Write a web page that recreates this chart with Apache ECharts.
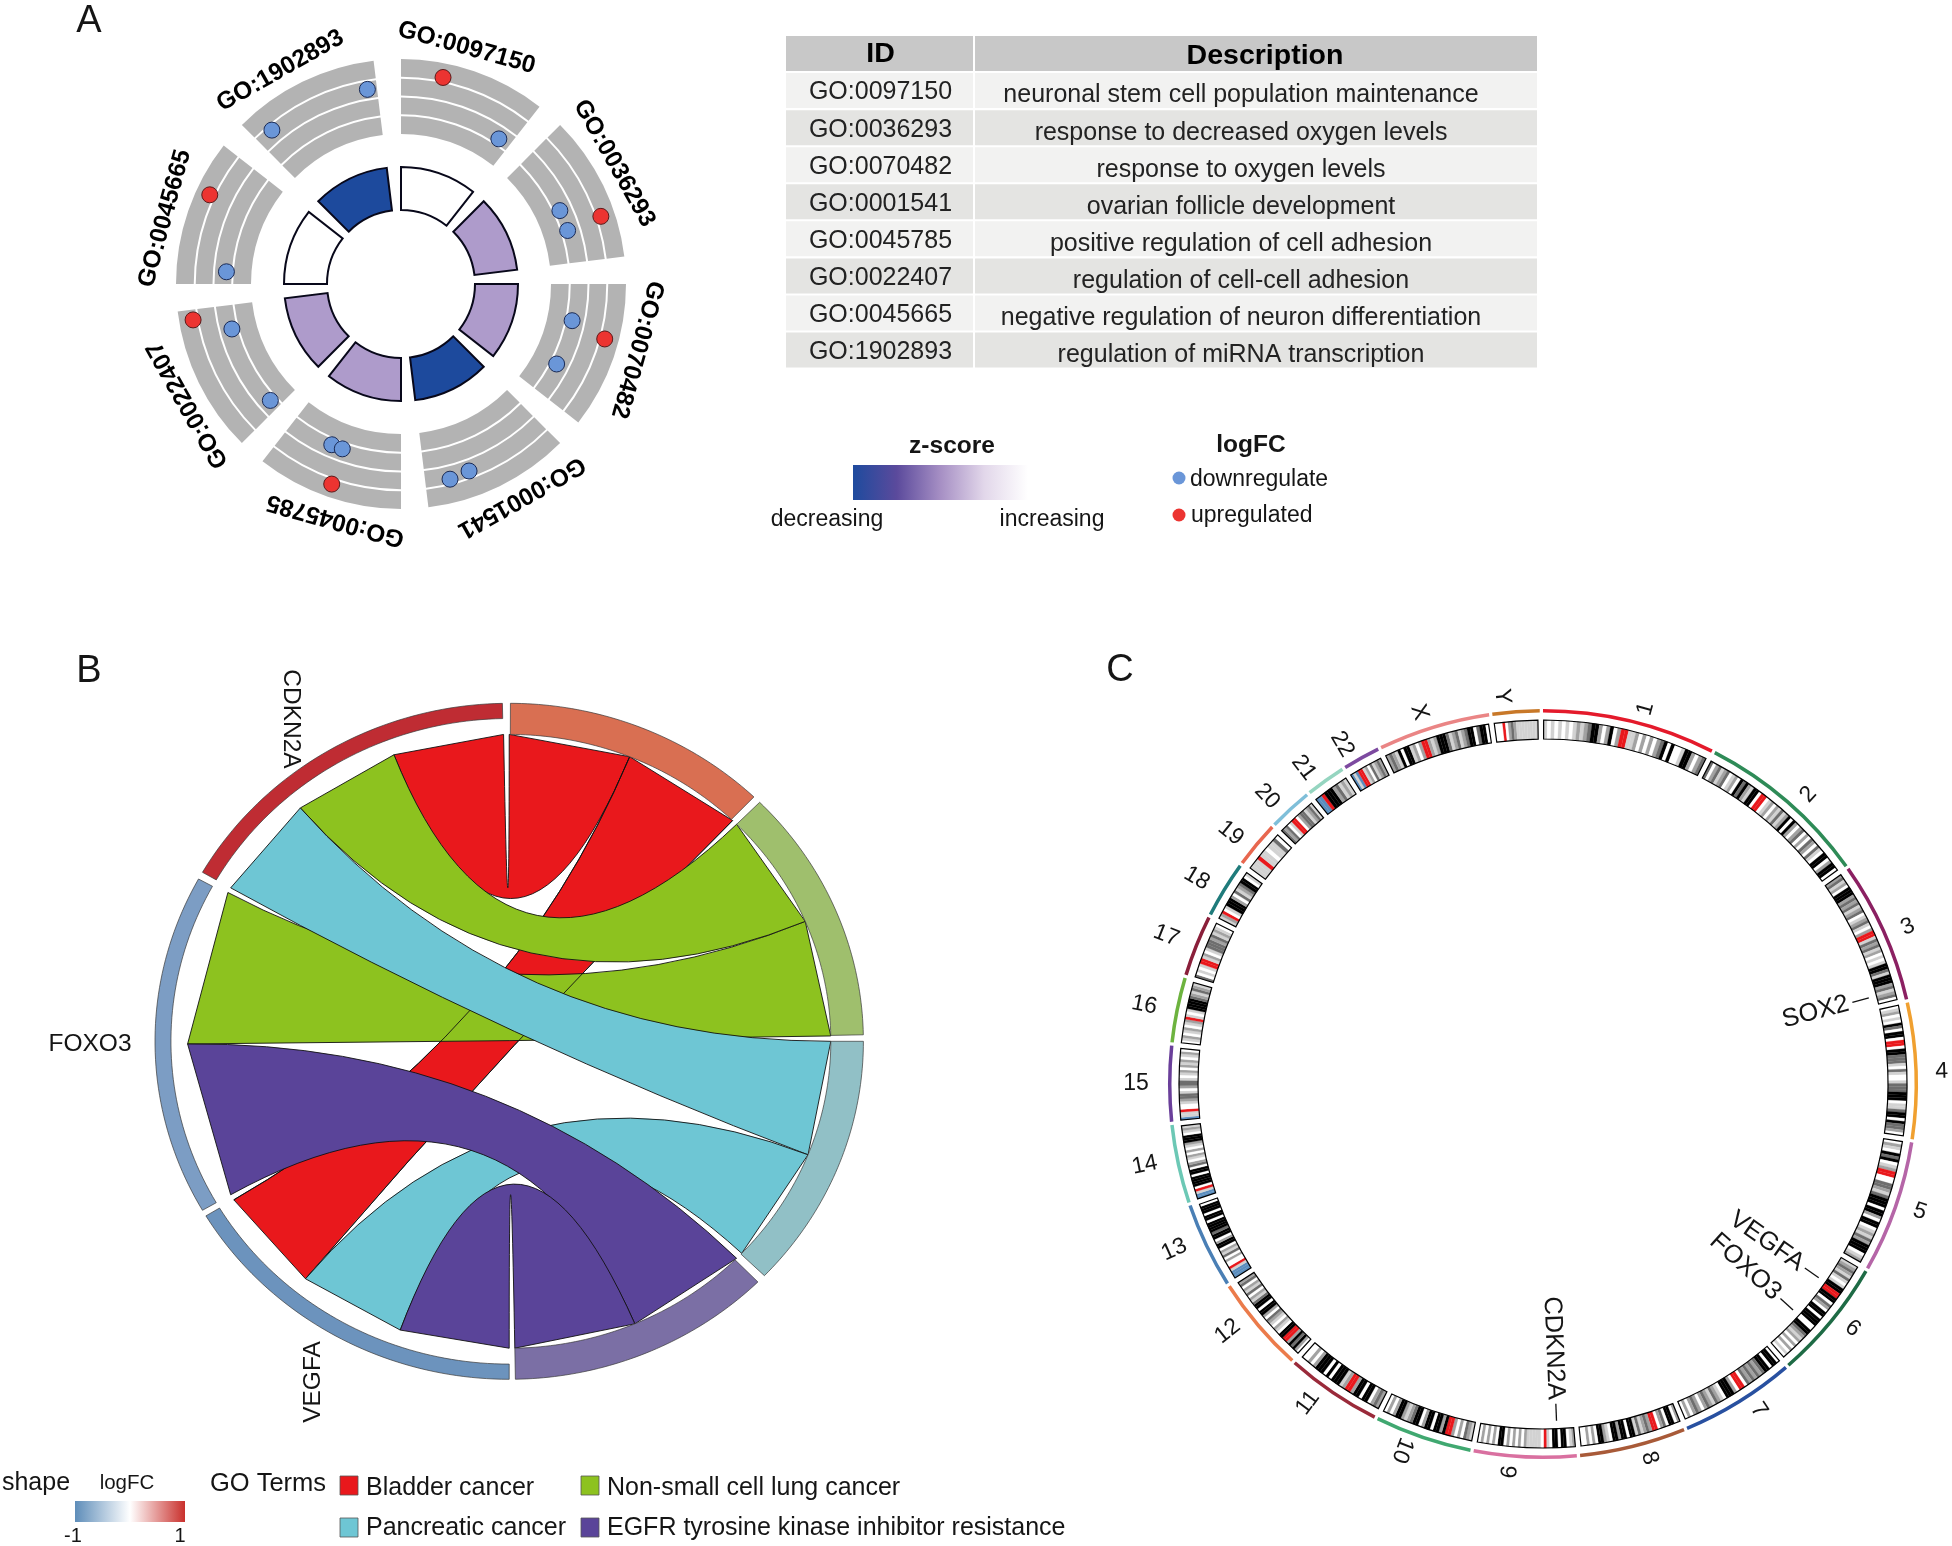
<!DOCTYPE html>
<html><head><meta charset="utf-8">
<style>html,body{margin:0;padding:0;background:#fff}#c{width:1952px;height:1546px}</style>
<script src="https://cdn.jsdelivr.net/npm/echarts@6/dist/echarts.min.js"></script>
</head><body><div id="c"></div>
<script>
// ---------- Panel A data ----------
const goIds = ['GO:0097150','GO:0036293','GO:0070482','GO:0001541','GO:0045785','GO:0022407','GO:0045665','GO:1902893'];
const goDescriptions = ['neuronal stem cell population maintenance','response to decreased oxygen levels','response to oxygen levels','ovarian follicle development','positive regulation of cell adhesion','regulation of cell-cell adhesion','negative regulation of neuron differentiation','regulation of miRNA transcription'];
const tableHeader = ['ID','Description'];
const zScoreClass = ['increasing','mid','mid','decreasing','mid','mid','increasing','decreasing'];
const sectorStart = [0,45,90,135,180,225,270,315];
const sectorSpan = 38;
const logFcTicks = [-3,-1.5,0,1.5,3];
const downPoints = [[-1,34],[-1,65.2],[-1,72.2],[-1,102.1],[-1,117.2],[0.92,160],[1.1,165.9],[-1,203.3],[-1,199.6],[-1,255.1],[-1,228.3],[-1,274],[0.8,350.2],[1.07,320]];
const upPoints = [[1.86,11.5],[1.88,71.3],[1.88,105.1],[1.94,199.1],[1.88,260.2],[1.88,295]];

// ---------- Panel B data ----------
const chordNames = ['Bladder cancer','Non-small cell lung cancer','Pancreatic cancer','EGFR tyrosine kinase inhibitor resistance','VEGFA','FOXO3','CDKN2A'];
const chordStart = [0.2,45,90,135.4,180,240,300];
const chordEnd = [43.7,88.9,133.9,179,238.9,298.7,358.9];
const ribbonTerm = [0,0,1,1,2,2,3,3];
const ribbonGeneFrom = [339,219.3,319.5,269.5,300,199.8,240,180];
const ribbonGeneTo = [359,238.9,339,299,319.5,219.3,269.5,199.8];
const ribbonTermFrom = [0,22,45,67,90,111.7,135,157];
const ribbonTermTo = [22,44,67,89,111.7,133.7,157,179];

// ---------- Panel C data ----------
const chromNames = ['1','2','3','4','5','6','7','8','9','10','11','12','13','14','15','16','17','18','19','20','21','22','X','Y'];
const chromBounds = [0,27.4,54.8,77.4,99,120.1,139.4,157.8,174.8,191.2,206.8,222.2,237.7,251.5,264.2,276.4,287,297,306.3,314,321.3,328,334.3,352.2,360];
const chromBands = [
 'lwlwlwlwlglgdkkgwgkwgrrllgwgwgwgdkwkwwlkkgwgd',
 'dwgdlgdwlgwkdkglkkwrrwlgwgldlgkwkgwgdwgwdgwdlwkkwgkkw',
 'gdlgwkkkgdgdlgdwlgdlwgrrldgdlgwlwlkkdlkkkgdlgdw',
 'wlgwlwkdwkkwrrwkkdddlwdlwwldddkkkwlldkkwkddgw',
 'wglwkdkwlgrrwwddgldkkkwkkgwkkwlgldgkkkwlg',
 'lgdgldlwlkkrrkkwdgwkkwkkkwwkkdglgwgwgwlw',
 'wkkwkkdgdgdgdwrrwgkkkwlgdlgdgwgdgwgw',
 'gwkkwdgwrrgdgldlkkwkkgkkwlgkkwgwgww',
 'glwkkwkkwlrwlllllgwgwgwgwkkwgwgwgw',
 'lgdwgwgrrkgkkwkkgwkkdglgkkgwgw',
 'gdgwkkwkkgrrglkkkwkwkkkgwgww',
 'wgkdkgrrkkwlgwlgdwgkkwkkdlgwdlgwdg',
 'bbblrwwgwdlgwkkgwkkdkkkkwkkwkkkw',
 'bblrwkkkkwkkwdgwlgwgwlgkkkwlgl',
 'bllrwwlgddlwgddlwlgwglgwlgw',
 'wlgwlgwlgrlwlkkkkdgldgl',
 'dwlwlrrlgwldddgdlglw',
 'lgrwlkkkgwdlgdkkwl',
 'lllrllwlldw',
 'dgdwlrrwgddlgdl',
 'bbrkkkgdlgl',
 'blbrrlgwdlgdg',
 'gdglkwkklgwgrrglgkkkdlgdlgdkkwdkkw',
 'wwwrwgdgllllllll'];
const geneLabels = ['SOX2','VEGFA','FOXO3','CDKN2A'];
const geneAngles = [75.2,125.1,132.1,177.7];

// ---------- Styles / layout (not data) ----------
const FONT = '"Liberation Sans", Arial, sans-serif';
const INK = '#151515';
const zColor = {increasing:'#ffffff', mid:'#AE9BCB', decreasing:'#1D4A9D'};
const chordColor = ['#D96F52','#9FBF6D','#91C0C6','#7B6FA5','#6C93BD','#7C9DC4','#BF2C33'];
const ribbonColor = ['#E9181C','#8DC21F','#6EC6D4','#5A4499'];
const stainColor = {w:'#ffffff',l:'#D2D2D2',g:'#A2A2A2',d:'#6E6E6E',k:'#000000',r:'#E9181C',b:'#5A8DBE'};
const chromColor = ['#E41A2B','#2E8B57','#8B2062','#F0A030','#B565A7','#1E6B45','#2850A0','#A85A38','#D970A0','#40A870','#9A2A3A','#EB7B4B','#4A7FB5','#6CC8B5','#6A3F9A','#6DB33F','#8A1F3A','#1F7B7B','#E8674F','#7FBFD9','#95D5C0','#7D4AA0','#EA8585','#C87828'];
const chromLabelAngle = [15.3,42.5,66.7,88.2,108.7,128.3,146.5,164.1,185.3,201,216.4,231.9,245.8,258.5,270,281.2,291.5,300.7,308.8,316.2,322.9,329.4,341.6,354];
const rad = d => (d-90)*Math.PI/180;

function sectorEl(cx,cy,r0,r,a0,a1,style){
  return {type:'sector',shape:{cx,cy,r0,r,startAngle:rad(a0),endAngle:rad(a1),clockwise:true},style};
}
function textStyle(text,size,opts){
  return Object.assign({text,fontSize:size,fontFamily:FONT,fill:INK,align:'center',verticalAlign:'middle'},opts||{});
}
function polarCustom(polarIndex,rows,fn,z){
  return {type:'custom',coordinateSystem:'polar',polarIndex,silent:true,animation:false,z:z||2,clip:false,
    data:rows.map(r=>[0,typeof r==='number'?r:(r.angle||0)]),
    renderItem:(p,api)=>fn(rows[p.dataIndex],p,api,p.dataIndex)};
}

// Panel A rendering
const bandRows = [];
sectorStart.forEach(s=>{for(let b=0;b<logFcTicks.length-1;b++)bandRows.push({angle:s,lo:logFcTicks[b],hi:logFcTicks[b+1]});});
const seriesA = [
  polarCustom(0,bandRows,(row,p,api)=>{
    const c=p.coordSys, r0=api.coord([row.lo,row.angle])[2]+(row.lo>logFcTicks[0]?1:0), r1=api.coord([row.hi,row.angle])[2]-(row.hi<3?1:0);
    return sectorEl(c.cx,c.cy,r0,r1,row.angle,row.angle+sectorSpan,{fill:'#B3B3B3'});
  }),
  polarCustom(0,goIds.map((id,i)=>({angle:sectorStart[i]+15.5,id})),(row,p,api)=>{
    const pt=api.coord([4.6,row.angle]);
    return {type:'text',x:pt[0],y:pt[1],rotation:-row.angle*Math.PI/180,style:textStyle(row.id,24.5,{fontWeight:'bold',fill:'#000'})};
  },3),
  polarCustom(1,zScoreClass.map((z,i)=>({angle:sectorStart[i],z})),(row,p)=>{
    const c=p.coordSys;
    return sectorEl(c.cx,c.cy,c.r0,c.r,row.angle,row.angle+sectorSpan,{fill:zColor[row.z],stroke:'#08081a',lineWidth:2});
  }),
  {type:'scatter',coordinateSystem:'polar',polarIndex:0,silent:true,animation:false,z:4,symbolSize:16,data:downPoints,itemStyle:{color:'#6A96D8',borderColor:'#1a2a55',borderWidth:1,opacity:1}},
  {type:'scatter',coordinateSystem:'polar',polarIndex:0,silent:true,animation:false,z:4,symbolSize:16,data:upPoints,itemStyle:{color:'#EC3431',borderColor:'#5a1a1a',borderWidth:1,opacity:1}}
];

// Panel A table
const tableRows = [];
[tableHeader[0]].concat(goIds).forEach((t,i)=>tableRows.push({col:0,row:i,text:t}));
[tableHeader[1]].concat(goDescriptions).forEach((t,i)=>tableRows.push({col:1,row:i,text:t}));
const colEdges = [[0,0.249],[0.2517,1]];
const seriesTable = [{type:'custom',coordinateSystem:'cartesian2d',xAxisIndex:0,yAxisIndex:0,silent:true,animation:false,
  data:tableRows.map(r=>[r.col,r.row]),
  renderItem:(p,api)=>{
    const r=tableRows[p.dataIndex], e=colEdges[r.col];
    const a=api.coord([e[0],r.row]), b=api.coord([e[1],r.row+0.945]);
    const fill=r.row===0?'#C8C8C8':(r.row%2?'#F2F2F1':'#E4E4E2');
    const head=r.row===0, dy=head?(r.col?3:1):(r.col?5:2);
    const dx=r.col?(head?9:-15):1;
    return {type:'group',children:[
      {type:'rect',shape:{x:a[0],y:a[1],width:b[0]-a[0],height:b[1]-a[1]},style:{fill}},
      {type:'text',x:(a[0]+b[0])/2+dx,y:(a[1]+b[1])/2+dy,style:textStyle(r.text,head?28.5:(r.col?25:25),{fontWeight:head?'bold':'normal',fill:head?'#000':'#222'})}
    ]};
  }}];

// Panel B rendering (normalised unit ellipse on stretched value axes)
const TERM_IN=0.908, GENE_IN=0.955, RIM=0.908;
const ell = (a,rho)=>[rho*Math.sin(a*Math.PI/180),rho*Math.cos(a*Math.PI/180)];
// draw order: red ribbons, lower green, outline of the crossing red ribbon, upper green, cyan, purple
const ribbonDrawOrder = [{i:0},{i:1},{i:3},{i:1,outlineOnly:true},{i:2},{i:4},{i:5},{i:6},{i:7}];
const seriesB = [
 {type:'custom',coordinateSystem:'cartesian2d',xAxisIndex:1,yAxisIndex:1,silent:true,animation:false,z:2,
  data:ribbonDrawOrder.map(d=>[ribbonTerm[d.i],d.i]),
  renderItem:(p,api)=>{
    const d0=ribbonDrawOrder[p.dataIndex], i=d0.i, o=api.coord([0,0]);
    const P=(a)=>api.coord(ell(a,RIM));
    const g0=P(ribbonGeneFrom[i]),g1=P(ribbonGeneTo[i]),t0=P(ribbonTermFrom[i]),t1=P(ribbonTermTo[i]);
    if(d0.outlineOnly){
      const e=`M${g1[0]} ${g1[1]}Q${o[0]} ${o[1]} ${t0[0]} ${t0[1]}M${t1[0]} ${t1[1]}Q${o[0]} ${o[1]} ${g0[0]} ${g0[1]}`;
      return {type:'path',shape:{pathData:e},style:{fill:'none',stroke:'#111',lineWidth:0.9}};
    }
    const d=`M${g0[0]} ${g0[1]}L${g1[0]} ${g1[1]}Q${o[0]} ${o[1]} ${t0[0]} ${t0[1]}L${t1[0]} ${t1[1]}Q${o[0]} ${o[1]} ${g0[0]} ${g0[1]}Z`;
    return {type:'path',shape:{pathData:d},style:{fill:ribbonColor[ribbonTerm[i]],stroke:'#111',lineWidth:0.9}};
  }},
 {type:'custom',coordinateSystem:'cartesian2d',xAxisIndex:1,yAxisIndex:1,silent:true,animation:false,z:3,
  data:chordNames.map((n,i)=>[i,0]),
  renderItem:(p,api)=>{
    const i=p.dataIndex, inner=i<4?TERM_IN:GENE_IN, pts=[], n=48;
    for(let k=0;k<=n;k++){const a=chordStart[i]+(chordEnd[i]-chordStart[i])*k/n;pts.push(api.coord(ell(a,1)));}
    for(let k=n;k>=0;k--){const a=chordStart[i]+(chordEnd[i]-chordStart[i])*k/n;pts.push(api.coord(ell(a,inner)));}
    return {type:'polygon',shape:{points:pts},style:{fill:chordColor[i],stroke:'#3a3a3a',lineWidth:0.7}};
  }}
];

// Panel C rendering
const stainRows=[];
chromBands.forEach((s,c)=>{
  const a0=chromBounds[c]+0.1, a1=chromBounds[c+1]-0.8, w=(a1-a0)/s.length;
  s.split('').forEach((ch,i)=>stainRows.push({angle:a0+i*w,end:a0+(i+1)*w,ch}));
});
const chromRows = chromNames.map((n,i)=>({angle:chromBounds[i],end:chromBounds[i+1],i,n}));
const seriesC = [
  polarCustom(2,stainRows,(row,p)=>{
    const c=p.coordSys, col=stainColor[row.ch];
    return sectorEl(c.cx,c.cy,c.r0,c.r,row.angle,row.end,{fill:col,stroke:col,lineWidth:0.25});
  }),
  polarCustom(2,chromRows,(row,p)=>{
    const c=p.coordSys;
    return sectorEl(c.cx,c.cy,c.r0,c.r,row.angle+0.1,row.end-0.8,{fill:'none',stroke:'#000',lineWidth:1.2});
  },3),
  polarCustom(2,chromRows,(row,p,api)=>{
    const c=p.coordSys, r0=api.coord([1.395,row.angle])[2], r1=api.coord([1.58,row.angle])[2];
    return sectorEl(c.cx,c.cy,r0,r1,row.angle,row.end-0.5,{fill:chromColor[row.i]});
  },3),
  polarCustom(2,chromRows,(row,p,api)=>{
    const th=chromLabelAngle[row.i], t=th*Math.PI/180;
    const R=403-14*Math.cos(t)*Math.cos(t)-4*Math.sin(t);
    const pt=api.coord([(R-345)/19,th]);
    const rot=th<205?th-90:th+90;
    return {type:'text',x:pt[0],y:pt[1],rotation:-rot*Math.PI/180,style:textStyle(row.n,23)};
  },3),
  polarCustom(2,geneLabels.map((g,i)=>({angle:geneAngles[i],g})),(row,p,api)=>{
    const a=api.coord([(320-345)/19,row.angle]), b=api.coord([(337-345)/19,row.angle]), t=api.coord([(316-345)/19,row.angle]);
    return {type:'group',children:[
      {type:'line',shape:{x1:a[0],y1:a[1],x2:b[0],y2:b[1]},style:{stroke:'#111',lineWidth:1.3}},
      {type:'text',x:t[0],y:t[1],rotation:-(row.angle-90)*Math.PI/180,style:textStyle(row.g,25.5,{align:'right'})}
    ]};
  },3)
];

// Legends / free text
const T=(x,y,text,size,o)=>({type:'text',x,y,silent:true,style:textStyle(text,size,o)});
const grad=(stops)=>new echarts.graphic.LinearGradient(0,0,1,0,stops.map(s=>({offset:s[0],color:s[1]})));
const swatch=(x,y,c)=>({type:'rect',x,y,silent:true,shape:{width:18,height:19},style:{fill:c,stroke:'#555',lineWidth:0.8}});
const dot=(x,y,c)=>({type:'circle',x,y,silent:true,shape:{r:6.5},style:{fill:c}});
const graphics=[
  T(89,22,'A',38), T(89,672,'B',38), T(1120,671,'C',38),
  T(952,446.5,'z-score',24.5,{fontWeight:'bold'}),
  {type:'rect',x:853,y:465,silent:true,shape:{width:175,height:35},style:{fill:grad([[0,'#1E4B9E'],[0.25,'#5B4A9C'],[0.5,'#A68FC4'],[0.75,'#E2D7EA'],[1,'#ffffff']])}},
  T(827,520,'decreasing',23), T(1052,520,'increasing',23),
  T(1251,445.5,'logFC',24.5,{fontWeight:'bold'}),
  dot(1179,478,'#6A96D8'), T(1190,479.5,'downregulate',23,{align:'left'}),
  dot(1179,515,'#EC3431'), T(1191,515.5,'upregulated',23,{align:'left'}),
  {type:'text',x:291,y:719,rotation:-Math.PI/2,silent:true,style:textStyle('CDKN2A',24.5)},
  T(90,1044.5,'FOXO3',24.5),
  {type:'text',x:313.5,y:1382,rotation:Math.PI/2,silent:true,style:textStyle('VEGFA',24.5)},
  T(36,1483.5,'shape',25), T(127,1483,'logFC',20.5), T(268,1483.5,'GO Terms',25.5),
  {type:'rect',x:75,y:1501,silent:true,shape:{width:110,height:21},style:{fill:grad([[0,'#5E8DB9'],[0.5,'#ffffff'],[1,'#C9302C']])}},
  T(73,1536,'-1',20), T(180,1536,'1',20),
  swatch(340,1476,ribbonColor[0]), T(366,1488,chordNames[0],25,{align:'left'}),
  swatch(581,1476,ribbonColor[1]), T(607,1488,chordNames[1],25,{align:'left'}),
  swatch(340,1518,ribbonColor[2]), T(366,1528.5,chordNames[2],25,{align:'left'}),
  swatch(581,1518,ribbonColor[3]), T(607,1528.5,chordNames[3],25,{align:'left'})
];

const hiddenValue=(extra)=>Object.assign({type:'value',show:false,scale:false,splitLine:{show:false}},extra);
const option={
  backgroundColor:'#ffffff',animation:false,tooltip:{show:false},
  polar:[{center:[401,284],radius:[150,225]},{center:[401,284],radius:[74,117]},{center:[1543,1084],radius:[345,364]}],
  angleAxis:[0,1,2].map(i=>({polarIndex:i,type:'value',min:0,max:360,startAngle:90,clockwise:true,show:false,splitLine:{show:false}})),
  radiusAxis:[
    {polarIndex:0,type:'value',min:-3,max:3,interval:1.5,show:false,splitLine:{show:false}},
    {polarIndex:1,type:'value',min:0,max:1,show:false,splitLine:{show:false}},
    {polarIndex:2,type:'value',min:0,max:1,show:false,splitLine:{show:false}}
  ],
  grid:[
    {left:786,top:36,width:751,height:333.6,outerBoundsMode:'none'},
    {left:509.2-354.2,top:1041.3-338,width:708.4,height:676,outerBoundsMode:'none'}
  ],
  xAxis:[hiddenValue({gridIndex:0,min:0,max:1}),hiddenValue({gridIndex:1,min:-1,max:1})],
  yAxis:[hiddenValue({gridIndex:0,min:0,max:9,inverse:true}),hiddenValue({gridIndex:1,min:-1,max:1})],
  series:[...seriesA,...seriesTable,...seriesB,...seriesC],
  graphic:{elements:graphics}
};
const chart=echarts.init(document.getElementById('c'),null,{renderer:'canvas',width:1952,height:1546});
chart.setOption(option);
</script></body></html>
